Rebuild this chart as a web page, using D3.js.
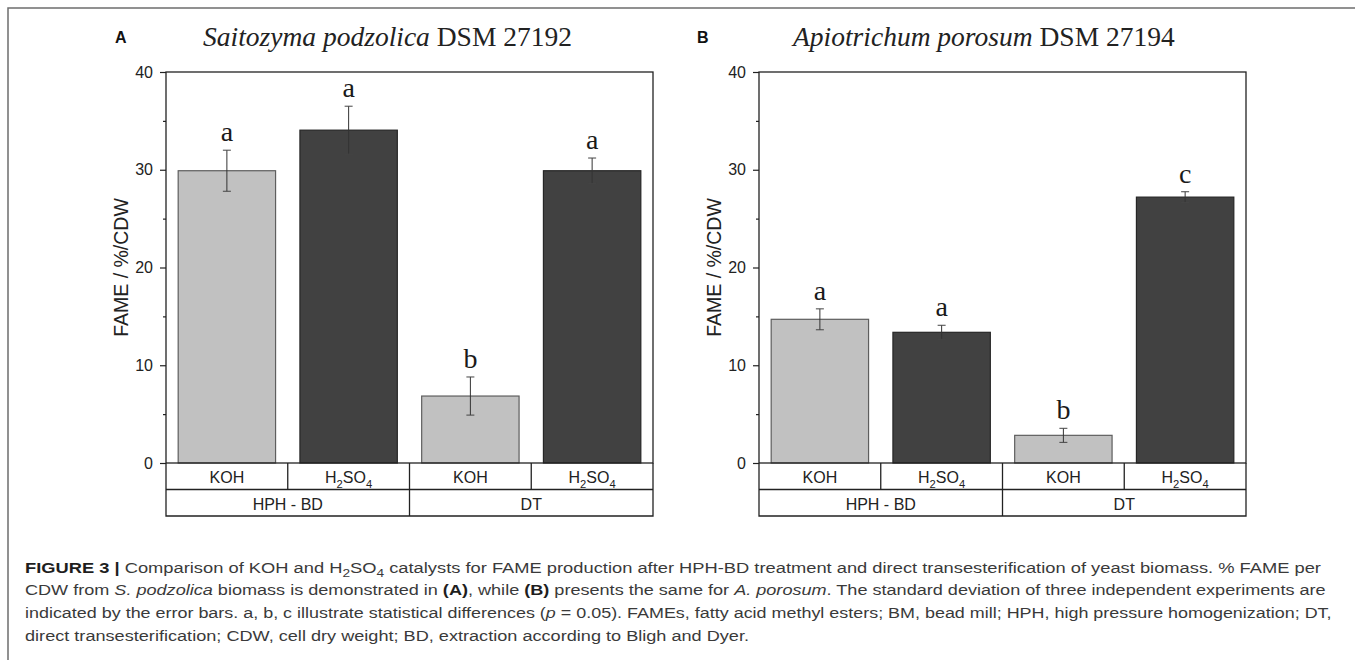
<!DOCTYPE html>
<html>
<head>
<meta charset="utf-8">
<script src="https://cdn.jsdelivr.net/npm/d3@7"></script>
<style>
  body { margin: 0; background: #fff; }
  svg text { white-space: pre; }
</style>
</head>
<body>
<svg id="fig" width="1355" height="660" font-family="'Liberation Sans', Arial, sans-serif"></svg>
<script>
// data
var groups = ["HPH - BD", "DT"];
var catalysts = ["KOH", "H2SO4", "KOH", "H2SO4"];
var catalystGroup = [0, 0, 1, 1];
var yTicks = [0, 10, 20, 30, 40];
var yMinorTicks = [5, 15, 25, 35];

var speciesA = "Saitozyma podzolica";
var strainA = "DSM 27192";
var fameA = [29.9, 34.05, 6.85, 29.9];
var sdA = [2.1, 2.45, 1.95, 1.3];
var lettersA = ["a", "a", "b", "a"];

var speciesB = "Apiotrichum porosum";
var strainB = "DSM 27194";
var fameB = [14.7, 13.37, 2.83, 27.2];
var sdB = [1.07, 0.72, 0.72, 0.55];
var lettersB = ["a", "a", "b", "c"];

var captionLines = [
    [["FIGURE 3 |", "b"], [" Comparison of KOH and H", "n"], ["2", "sub"], ["SO", "n"], ["4", "sub"],
     [" catalysts for FAME production after HPH-BD treatment and direct transesterification of yeast biomass. % FAME per", "n"]],
    [["CDW from ", "n"], ["S. podzolica", "i"], [" biomass is demonstrated in ", "n"], ["(A)", "b"], [", while ", "n"],
     ["(B)", "b"], [" presents the same for ", "n"], ["A. porosum", "i"],
     [". The standard deviation of three independent experiments are", "n"]],
    [["indicated by the error bars. a, b, c illustrate statistical differences (", "n"], ["p", "i"],
     [" = 0.05). FAMEs, fatty acid methyl esters; BM, bead mill; HPH, high pressure homogenization; DT,", "n"]],
    [["direct transesterification; CDW, cell dry weight; BD, extraction according to Bligh and Dyer.", "n"]]
];
// right ends of the three full caption lines (last line is ragged)
var captionEnds = [1322, 1327, 1333];

var W = 1355, H = 660;
var serif = "'Liberation Serif', 'Times New Roman', serif";
var svg = d3.select("#fig");

// outer frame (left + top only, runs off the page)
svg.append("path")
    .attr("d", "M8," + H + "V8H" + W)
    .attr("fill", "none")
    .attr("stroke", "#6e6e6e")
    .attr("stroke-width", 1.5);

var plotTop = 72, plotBottom = 463, plotW = 487, rowH = 26.5;
var y = d3.scaleLinear().domain([0, 40]).range([plotBottom, plotTop]);

// H2SO4 style labels: digits become subscripts
function addFormula(text, str, size) {
    var shift = 0;
    str.match(/[A-Za-z]+|\d+/g).forEach(function(p) {
        var isSub = /\d/.test(p);
        var target = isSub ? size * 0.3 : 0;
        text.append("tspan")
            .attr("dy", target - shift)
            .attr("font-size", isSub ? size * 0.7 : size)
            .text(p);
        shift = target;
    });
}

function drawPanel(p) {
    var g = svg.append("g");
    var left = p.left;

    var cell = d3.scaleBand().domain(d3.range(catalysts.length)).range([left, left + plotW]);
    var bar = d3.scaleBand().domain(d3.range(catalysts.length)).range([left, left + plotW])
        .paddingInner(0.2).paddingOuter(0.1);
    var grp = d3.scaleBand().domain(groups).range([left, left + plotW]);

    // panel tag and title
    g.append("text").attr("x", p.tagX).attr("y", 43)
        .attr("font-size", 16).attr("font-weight", "bold").attr("fill", "#111")
        .text(p.tag);
    var title = g.append("text").attr("x", left + p.titleDx).attr("y", 46)
        .attr("font-family", serif)
        .attr("font-size", 27.5).attr("fill", "#222");
    title.append("tspan").attr("font-style", "italic").text(p.species);
    title.append("tspan").text(" " + p.strain);

    // bars
    g.selectAll("rect.bar").data(p.values).join("rect")
        .attr("class", "bar")
        .attr("x", function(d, i) { return bar(i); })
        .attr("y", function(d) { return y(d); })
        .attr("width", bar.bandwidth())
        .attr("height", function(d) { return y(0) - y(d); })
        .attr("fill", function(d, i) { return catalysts[i] == "KOH" ? "#c1c1c1" : "#414141"; })
        .attr("stroke", function(d, i) { return catalysts[i] == "KOH" ? "#5e5e5e" : "#262626"; })
        .attr("stroke-width", 1.2);

    // error bars
    var eb = g.selectAll("g.err").data(p.values).join("g").attr("class", "err")
        .attr("transform", function(d, i) { return "translate(" + (bar(i) + bar.bandwidth() / 2) + ",0)"; });
    eb.append("line")
        .attr("y1", function(d, i) { return y(d + p.sd[i]); })
        .attr("y2", function(d, i) { return y(d - p.sd[i]); })
        .attr("stroke", "#333").attr("stroke-width", 1);
    [1, -1].forEach(function(sign) {
        eb.append("line").attr("x1", -4).attr("x2", 4)
            .attr("y1", function(d, i) { return y(d + sign * p.sd[i]); })
            .attr("y2", function(d, i) { return y(d + sign * p.sd[i]); })
            .attr("stroke", "#444").attr("stroke-width", 1);
    });
    eb.append("text")
        .attr("y", function(d, i) { return y(d + p.sd[i]) - 9; })
        .attr("text-anchor", "middle")
        .attr("font-family", serif)
        .attr("font-size", 28).attr("fill", "#1a1a1a")
        .text(function(d, i) { return p.letters[i]; });

    // plot frame
    g.append("rect").attr("x", left).attr("y", plotTop)
        .attr("width", plotW).attr("height", plotBottom - plotTop)
        .attr("fill", "none").attr("stroke", "#222").attr("stroke-width", 1.3);

    // y axis
    var ax = g.append("g").attr("transform", "translate(" + left + ",0)")
        .call(d3.axisLeft(y).tickValues(yTicks).tickSize(6).tickPadding(7).tickSizeOuter(0));
    ax.call(function(s) { s.select(".domain").remove(); });
    ax.attr("font-family", null).attr("font-size", null);
    ax.selectAll("text").attr("font-size", 16).attr("fill", "#222");
    ax.selectAll("line").attr("stroke", "#222").attr("stroke-width", 1.2);
    var minor = g.append("g").attr("transform", "translate(" + left + ",0)")
        .call(d3.axisLeft(y).tickValues(yMinorTicks).tickSize(3).tickFormat(""));
    minor.select(".domain").remove();
    minor.selectAll("line").attr("stroke", "#222").attr("stroke-width", 1.2);

    g.append("text")
        .attr("transform", "translate(" + (left - 38) + "," + ((plotTop + plotBottom) / 2) + ") rotate(-90)")
        .attr("text-anchor", "middle").attr("font-size", 19.5).attr("fill", "#222")
        .text("FAME / %/CDW");

    // category table under the axis
    var r1 = plotBottom + rowH, r2 = plotBottom + 2 * rowH;
    var tbl = g.append("g").attr("stroke", "#222").attr("stroke-width", 1.3);
    tbl.append("path").attr("fill", "none")
        .attr("d", "M" + left + "," + plotBottom + "V" + r2 + "H" + (left + plotW) + "V" + plotBottom);
    tbl.append("line").attr("x1", left).attr("x2", left + plotW).attr("y1", r1).attr("y2", r1);
    d3.range(1, catalysts.length).forEach(function(i) {
        var isGroupEdge = catalystGroup[i] != catalystGroup[i - 1];
        tbl.append("line").attr("x1", cell(i)).attr("x2", cell(i))
            .attr("y1", plotBottom).attr("y2", isGroupEdge ? r2 : r1);
    });

    catalysts.forEach(function(c, i) {
        var t = g.append("text").attr("x", cell(i) + cell.bandwidth() / 2).attr("y", plotBottom + 20)
            .attr("text-anchor", "middle").attr("font-size", 16).attr("fill", "#222");
        addFormula(t, c, 16);
    });
    groups.forEach(function(gName) {
        g.append("text").attr("x", grp(gName) + grp.bandwidth() / 2).attr("y", r1 + 20)
            .attr("text-anchor", "middle").attr("font-size", 16).attr("fill", "#222")
            .text(gName);
    });
}

drawPanel({ left: 166, tag: "A", tagX: 115, titleDx: 37, species: speciesA, strain: strainA,
            values: fameA, sd: sdA, letters: lettersA });
drawPanel({ left: 759, tag: "B", tagX: 697, titleDx: 34, species: speciesB, strain: strainB,
            values: fameB, sd: sdB, letters: lettersB });

// caption: reference uses a condensed face, so squeeze each full line to its width
var capSize = 15.5, capX = 25, capBase = 572.5, capLead = 22.7;
var capNodes = captionLines.map(function(segs) {
    var t = svg.append("text").attr("x", 0).attr("y", 0)
        .attr("font-size", capSize).attr("fill", "#3a3a3a");
    var shift = 0;
    segs.forEach(function(s) {
        var target = s[1] == "sub" ? capSize * 0.28 : 0;
        var ts = t.append("tspan").attr("dy", target - shift).text(s[0]);
        if (s[1] == "b") ts.attr("font-weight", "bold").attr("fill", "#1e1e1e");
        if (s[1] == "i") ts.attr("font-style", "italic");
        if (s[1] == "sub") ts.attr("font-size", capSize * 0.75);
        shift = target;
    });
    return t;
});
var squeezes = captionEnds.map(function(e, i) {
    return (e - capX) / capNodes[i].node().getComputedTextLength();
});
squeezes.push(d3.mean(squeezes));
capNodes.forEach(function(t, li) {
    t.attr("transform", "translate(" + capX + "," + (capBase + li * capLead) + ") scale(" + squeezes[li] + ",1)");
});
</script>
</body>
</html>
